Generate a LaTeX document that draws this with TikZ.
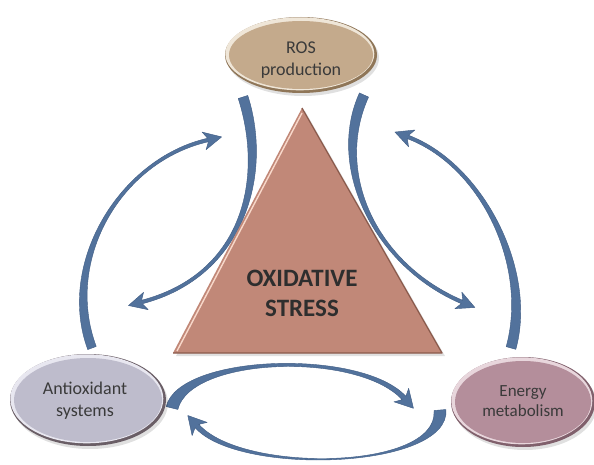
\documentclass[tikz,border=0pt]{standalone}
\usepackage{fontspec}
\setmainfont{Carlito}
\usetikzlibrary{calc,shapes.geometric}

\definecolor{arrowblue}{HTML}{52729C}
\definecolor{arrowedge}{HTML}{3F5C84}
\definecolor{rosfill}{HTML}{C4AA8C}
\definecolor{roslight}{HTML}{EFE6D8}
\definecolor{rosdark}{HTML}{8F7658}
\definecolor{antifill}{HTML}{BEBCCC}
\definecolor{antilight}{HTML}{E8E7F0}
\definecolor{antidark}{HTML}{6A5E66}
\definecolor{enfill}{HTML}{B48E9B}
\definecolor{enlight}{HTML}{E8D6DC}
\definecolor{endark}{HTML}{80606C}
\definecolor{trifill}{HTML}{C18878}
\definecolor{trilight}{HTML}{F8D8CA}
\definecolor{tridark}{HTML}{8A5A4C}
\definecolor{labeltext}{HTML}{3A3A3A}

\tikzset{
  swooshstyle/.style={fill=arrowblue, draw=arrowedge, line width=0.4pt, line join=round},
  partlabel/.style={align=center, text=labeltext, font=\fontsize{18}{22}\selectfont},
  corelabel/.style={align=center, text=black!82, font=\fontsize{25}{30}\selectfont\bfseries}
}

% tapered curved arrow: tail, control 1, control 2, neck,
% tail half width, neck half width, head half width
\newcommand\swoosh[7]{%
  \path ($(#1)!#5!90:(#2)$) coordinate (sw-l0)
        ($(#1)!#5!-90:(#2)$) coordinate (sw-r0)
        ($(#4)!#6!-90:(#3)$) coordinate (sw-l3)
        ($(#4)!#6!90:(#3)$) coordinate (sw-r3)
        ($(#4)!4pt!(#3)$) coordinate (sw-b)
        ($(sw-b)!#7!-90:(#3)$) coordinate (sw-lb)
        ($(sw-b)!#7!90:(#3)$) coordinate (sw-rb)
        ($(#4)!14pt!180:(#3)$) coordinate (sw-tip);
  \filldraw[swooshstyle] (sw-l0)
      .. controls ($(#2)+(sw-l0)-(#1)$) and ($(#3)+(sw-l3)-(#4)$) .. (sw-l3)
      -- (sw-lb) -- (sw-tip) -- (sw-rb) -- (sw-r3)
      .. controls ($(#3)+(sw-r3)-(#4)$) and ($(#2)+(sw-r0)-(#1)$) .. (sw-r0)
      -- cycle;
}

% bevelled ellipse: centre, x radius, y radius, fill, light rim, dark rim
\newcommand\bevelellipse[6]{%
  \fill[black, opacity=0.12] ($(#1)+(2,3)$) ellipse [x radius=#2pt, y radius=#3pt];
  \fill[#6] (#1) ellipse [x radius=#2pt, y radius=#3pt];
  \fill[#5] ($(#1)+(-1.2,-1.2)$) ellipse [x radius=#2pt-1.5pt, y radius=#3pt-1.5pt];
  \fill[#4] (#1) ellipse [x radius=#2pt-4pt, y radius=#3pt-4pt];
}

\begin{document}
\begin{tikzpicture}[x=1pt, y=-1pt]
\useasboundingbox (0,0) rectangle (594,465);
\fill[white] (0,0) rectangle (594,465);

% ---- centres of the three parts and the triangle corners
\coordinate (rosC) at (301,55);
\coordinate (antiC) at (88,400);
\coordinate (enC) at (523,402);
\coordinate (tA) at (302,108);
\coordinate (tL) at (173,353);
\coordinate (tR) at (442,353);

% ---- curved arrows
% left: antioxidant -> ROS
\coordinate (aT) at (92,348);  \coordinate (a1) at (60,262);
\coordinate (a2) at (120,160); \coordinate (aN) at (208,140);
% left: ROS -> antioxidant
\coordinate (bT) at (243,97);  \coordinate (b1) at (268,175);
\coordinate (b2) at (245,275); \coordinate (bN) at (142,302);
% right: ROS -> energy
\coordinate (cT) at (364,95);  \coordinate (c1) at (330,170);
\coordinate (c2) at (375,265); \coordinate (cN) at (462,302);
% right: energy -> ROS
\coordinate (dT) at (511,348); \coordinate (d1) at (533,268);
\coordinate (d2) at (482,165); \coordinate (dN) at (408,137);
% bottom: antioxidant -> energy
\coordinate (eT) at (172,408); \coordinate (e1) at (185,355);
\coordinate (e2) at (360,350); \coordinate (eN) at (404,398);
% bottom: energy -> antioxidant
\coordinate (fT) at (440,410); \coordinate (f1) at (445,470);
\coordinate (f2) at (240,475); \coordinate (fN) at (197,426);

\swoosh{aT}{a1}{a2}{aN}{4.5pt}{1.8pt}{9pt}
\swoosh{bT}{b1}{b2}{bN}{5pt}{1.8pt}{9pt}
\swoosh{cT}{c1}{c2}{cN}{5pt}{1.8pt}{9pt}
\swoosh{dT}{d1}{d2}{dN}{5pt}{1.8pt}{9pt}
\swoosh{eT}{e1}{e2}{eN}{6pt}{2.5pt}{10pt}
\swoosh{fT}{f1}{f2}{fN}{6pt}{2.5pt}{10pt}

% ---- central triangle
\fill[black, opacity=0.12] ($(tA)+(3,3)$) -- ($(tL)+(3,3)$) -- ($(tR)+(3,3)$) -- cycle;
\fill[trifill] (tA) -- (tL) -- (tR) -- cycle;
\draw[trilight, line width=1.4pt] ($(tL)+(4,-2)$) -- ($(tA)+(0,5)$);
\draw[tridark, line width=1.2pt, line join=round] (tA) -- (tR) -- (tL);
\node[corelabel] (core) at (302,293) {OXIDATIVE\\STRESS};

% ---- the three parts
\bevelellipse{rosC}{76}{38}{rosfill}{roslight}{rosdark}
\bevelellipse{antiC}{78}{46}{antifill}{antilight}{antidark}
\bevelellipse{enC}{72}{45}{enfill}{enlight}{endark}

\node[partlabel] (ros) at (301,60) {ROS\\production};
\node[partlabel] (anti) at (85,401) {Antioxidant\\systems};
\node[partlabel, font=\fontsize{17}{20}\selectfont] (en) at (523,401) {Energy\\metabolism};
\end{tikzpicture}
\end{document}
